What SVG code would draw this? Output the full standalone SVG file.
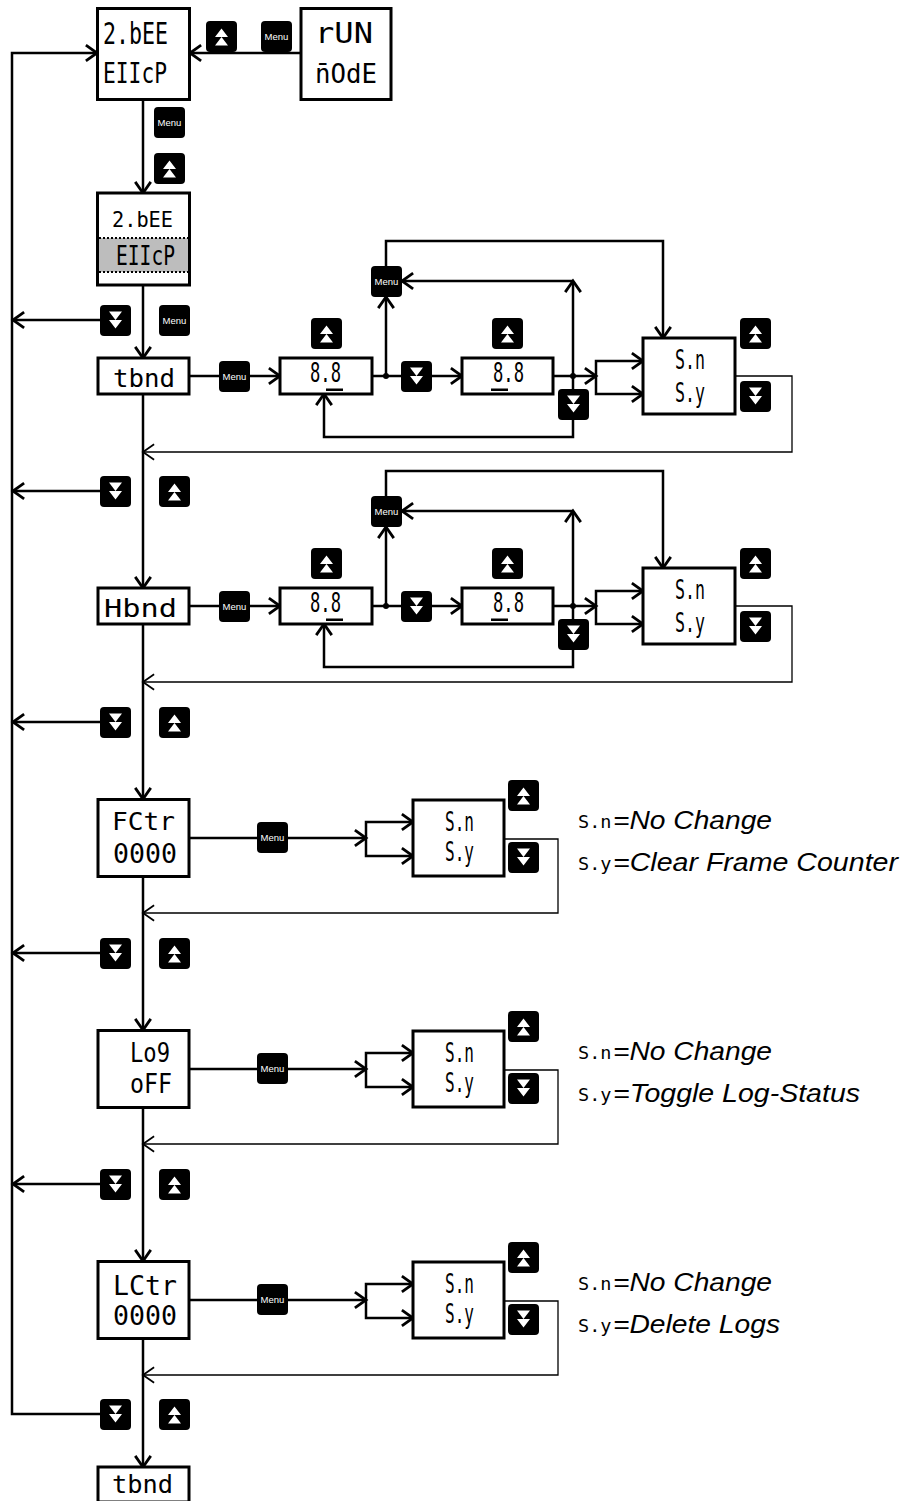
<svg xmlns="http://www.w3.org/2000/svg" xmlns:xlink="http://www.w3.org/1999/xlink" width="904" height="1501" viewBox="0 0 904 1501">
<style>
.ln{fill:none;stroke:#000;stroke-width:2.5}
.thin{fill:none;stroke:#000;stroke-width:1.3}
.box{fill:#fff;stroke:#000;stroke-width:3}
.disp{font-family:"DejaVu Sans Mono","Liberation Mono",monospace;fill:#000}
.lsn{font-family:"DejaVu Sans Mono","Liberation Mono",monospace;font-size:18.5px;fill:#000}
.mtxt{font-family:"Liberation Sans",Arial,sans-serif;font-size:9.5px;fill:#fff;text-anchor:middle}
.leg{font-family:"Liberation Sans",Arial,sans-serif;font-style:italic;font-size:26px;fill:#000}
</style>
<defs>
<marker id="ah" markerUnits="userSpaceOnUse" markerWidth="20" markerHeight="20" viewBox="-12 -9 14 18" refX="0" refY="0" orient="auto" overflow="visible">
<path d="M-10,-7 L0,0 L-10,7" fill="none" stroke="#000" stroke-width="2.5"/>
</marker>
<marker id="aht" markerUnits="userSpaceOnUse" markerWidth="20" markerHeight="20" viewBox="-12 -9 14 18" refX="0" refY="0" orient="auto" overflow="visible">
<path d="M-10,-7 L0,0 L-10,7" fill="none" stroke="#000" stroke-width="1.6"/>
</marker>
<g id="up"><rect width="31" height="31" rx="4" fill="#000"/><path d="M15.5,7.5 L22,16 L9,16 Z M15.5,16 L22,24.5 L9,24.5 Z" fill="#fff"/></g>
<g id="dn"><rect width="31" height="31" rx="4" fill="#000"/><path d="M9,6.5 L22,6.5 L15.5,15 Z M9,15 L22,15 L15.5,23.5 Z" fill="#fff"/></g>
<g id="mn"><rect width="31" height="31" rx="4" fill="#000"/><text class="mtxt" x="15.5" y="18.5">Menu</text></g>
</defs>
<rect width="904" height="1501" fill="#fff"/>

<g id="connectors">
<path class="ln" d="M301,53 H190" marker-end="url(#ah)"/>
<path class="ln" d="M100,1414 H12 V53 H97" marker-end="url(#ah)"/>
<path class="ln" d="M143,99 V193" marker-end="url(#ah)"/>
<path class="ln" d="M143,285 V358" marker-end="url(#ah)"/>
<path class="ln" d="M100,320 H13" marker-end="url(#ah)"/>
<path class="ln" d="M189,376 H280" marker-end="url(#ah)"/>
<path class="ln" d="M372,376 H462" marker-end="url(#ah)"/>
<path class="ln" d="M386,376 V297" marker-end="url(#ah)"/>
<path class="ln" d="M386,266 V241 H663 V338" marker-end="url(#ah)"/>
<path class="ln" d="M553,376 H596" marker-end="url(#ah)"/>
<path class="ln" d="M596,376 V361 H643" marker-end="url(#ah)"/>
<path class="ln" d="M596,376 V394 H643" marker-end="url(#ah)"/>
<path class="ln" d="M573,376 V281" marker-end="url(#ah)"/>
<path class="ln" d="M573,281 H402" marker-end="url(#ah)"/>
<path class="ln" d="M573,376 V437 H324 V394" marker-end="url(#ah)"/>
<path class="thin" d="M735,376 H792 V452 H143" marker-end="url(#aht)"/>
<circle cx="386" cy="376" r="3"/>
<circle cx="573" cy="376" r="3"/>
<path class="ln" d="M143,394 V588" marker-end="url(#ah)"/>
<path class="ln" d="M100,491 H13" marker-end="url(#ah)"/>
<path class="ln" d="M189,606 H280" marker-end="url(#ah)"/>
<path class="ln" d="M372,606 H462" marker-end="url(#ah)"/>
<path class="ln" d="M386,606 V527" marker-end="url(#ah)"/>
<path class="ln" d="M386,496 V471 H663 V568" marker-end="url(#ah)"/>
<path class="ln" d="M553,606 H596" marker-end="url(#ah)"/>
<path class="ln" d="M596,606 V591 H643" marker-end="url(#ah)"/>
<path class="ln" d="M596,606 V624 H643" marker-end="url(#ah)"/>
<path class="ln" d="M573,606 V511" marker-end="url(#ah)"/>
<path class="ln" d="M573,511 H402" marker-end="url(#ah)"/>
<path class="ln" d="M573,606 V667 H324 V624" marker-end="url(#ah)"/>
<path class="thin" d="M735,606 H792 V682 H143" marker-end="url(#aht)"/>
<circle cx="386" cy="606" r="3"/>
<circle cx="573" cy="606" r="3"/>
<path class="ln" d="M143,624 V799" marker-end="url(#ah)"/>
<path class="ln" d="M100,722 H13" marker-end="url(#ah)"/>
<path class="ln" d="M189,838 H366" marker-end="url(#ah)"/>
<path class="ln" d="M366,838 V822 H413" marker-end="url(#ah)"/>
<path class="ln" d="M366,838 V856 H413" marker-end="url(#ah)"/>
<path class="thin" d="M504,839 H558 V913 H143" marker-end="url(#aht)"/>
<path class="ln" d="M143,877 V1030" marker-end="url(#ah)"/>
<path class="ln" d="M100,953 H13" marker-end="url(#ah)"/>
<path class="ln" d="M189,1069 H366" marker-end="url(#ah)"/>
<path class="ln" d="M366,1069 V1053 H413" marker-end="url(#ah)"/>
<path class="ln" d="M366,1069 V1087 H413" marker-end="url(#ah)"/>
<path class="thin" d="M504,1070 H558 V1144 H143" marker-end="url(#aht)"/>
<path class="ln" d="M143,1108 V1261" marker-end="url(#ah)"/>
<path class="ln" d="M100,1184 H13" marker-end="url(#ah)"/>
<path class="ln" d="M189,1300 H366" marker-end="url(#ah)"/>
<path class="ln" d="M366,1300 V1284 H413" marker-end="url(#ah)"/>
<path class="ln" d="M366,1300 V1318 H413" marker-end="url(#ah)"/>
<path class="thin" d="M504,1301 H558 V1375 H143" marker-end="url(#aht)"/>
<path class="ln" d="M143,1339 V1467" marker-end="url(#ah)"/>
</g>

<g id="keys">
<use href="#up" x="206" y="21"/>
<use href="#mn" x="261" y="21"/>
<use href="#mn" x="154" y="107"/>
<use href="#up" x="154" y="153"/>
<use href="#dn" x="100" y="305"/>
<use href="#mn" x="159" y="305"/>
<use href="#mn" x="219" y="361"/>
<use href="#up" x="311" y="318"/>
<use href="#mn" x="371" y="266"/>
<use href="#dn" x="401" y="361"/>
<use href="#up" x="492" y="318"/>
<use href="#dn" x="558" y="389"/>
<use href="#up" x="740" y="318"/>
<use href="#dn" x="740" y="381"/>
<use href="#dn" x="100" y="476"/>
<use href="#up" x="159" y="476"/>
<use href="#mn" x="219" y="591"/>
<use href="#up" x="311" y="548"/>
<use href="#mn" x="371" y="496"/>
<use href="#dn" x="401" y="591"/>
<use href="#up" x="492" y="548"/>
<use href="#dn" x="558" y="619"/>
<use href="#up" x="740" y="548"/>
<use href="#dn" x="740" y="611"/>
<use href="#dn" x="100" y="707"/>
<use href="#up" x="159" y="707"/>
<use href="#mn" x="257" y="822"/>
<use href="#up" x="508" y="780"/>
<use href="#dn" x="508" y="842"/>
<use href="#dn" x="100" y="938"/>
<use href="#up" x="159" y="938"/>
<use href="#mn" x="257" y="1053"/>
<use href="#up" x="508" y="1011"/>
<use href="#dn" x="508" y="1073"/>
<use href="#dn" x="100" y="1169"/>
<use href="#up" x="159" y="1169"/>
<use href="#mn" x="257" y="1284"/>
<use href="#up" x="508" y="1242"/>
<use href="#dn" x="508" y="1304"/>
<use href="#dn" x="100" y="1399"/>
<use href="#up" x="159" y="1399"/>
</g>

<g id="node-setup">
<rect class="box" x="97.5" y="8.5" width="92" height="91"/>
<text class="disp" x="103" y="44" font-size="30" textLength="65" lengthAdjust="spacingAndGlyphs">2.bEE</text>
<text class="disp" x="103" y="83" font-size="28" textLength="64" lengthAdjust="spacingAndGlyphs">EIIcP</text>
</g>
<g id="node-runmode">
<rect class="box" x="301" y="8.5" width="90" height="91"/>
<text class="disp" x="315" y="43" font-size="29" textLength="58" lengthAdjust="spacingAndGlyphs">rUN</text>
<text class="disp" x="315" y="83" font-size="27" textLength="62" lengthAdjust="spacingAndGlyphs">n̄OdE</text>
</g>
<g id="node-setup-sel">
<rect class="box" x="97.5" y="193" width="92" height="92"/>
<rect x="99" y="238" width="89" height="34" fill="#bdbdbd"/>
<path d="M99,238 H188 M99,272 H188" stroke="#000" stroke-width="2" stroke-dasharray="2,2"/>
<text class="disp" x="112" y="227" font-size="21" textLength="61" lengthAdjust="spacingAndGlyphs">2.bEE</text>
<text class="disp" x="116" y="265" font-size="27" textLength="59" lengthAdjust="spacingAndGlyphs">EIIcP</text>
</g>
<g id="node-tbnd">
<rect class="box" x="98" y="358" width="91" height="36"/>
<text class="disp" x="113" y="387" font-size="25" textLength="62" lengthAdjust="spacingAndGlyphs">tbnd</text>
</g>
<g id="node-tbnd-d1">
<rect class="box" x="280" y="358" width="92" height="36"/>
<text class="disp" x="310" y="382" font-size="26" textLength="31" lengthAdjust="spacingAndGlyphs">8.8</text>
<rect x="326" y="388.5" width="17" height="2.5"/>
</g>
<g id="node-tbnd-d2">
<rect class="box" x="462" y="358" width="91" height="36"/>
<text class="disp" x="493" y="382" font-size="26" textLength="31" lengthAdjust="spacingAndGlyphs">8.8</text>
<rect x="491" y="388.5" width="17" height="2.5"/>
</g>
<g id="node-tbnd-sel">
<rect class="box" x="643" y="338" width="92" height="76"/>
<text class="disp" x="675" y="369" font-size="26" textLength="30" lengthAdjust="spacingAndGlyphs">S.n</text>
<text class="disp" x="675" y="402" font-size="26" textLength="30" lengthAdjust="spacingAndGlyphs">S.y</text>
</g>
<g id="node-hbnd">
<rect class="box" x="98" y="588" width="91" height="36"/>
<text class="disp" x="104" y="617" font-size="25" textLength="73" lengthAdjust="spacingAndGlyphs">Hbnd</text>
</g>
<g id="node-hbnd-d1">
<rect class="box" x="280" y="588" width="92" height="36"/>
<text class="disp" x="310" y="612" font-size="26" textLength="31" lengthAdjust="spacingAndGlyphs">8.8</text>
<rect x="326" y="618.5" width="17" height="2.5"/>
</g>
<g id="node-hbnd-d2">
<rect class="box" x="462" y="588" width="91" height="36"/>
<text class="disp" x="493" y="612" font-size="26" textLength="31" lengthAdjust="spacingAndGlyphs">8.8</text>
<rect x="491" y="618.5" width="17" height="2.5"/>
</g>
<g id="node-hbnd-sel">
<rect class="box" x="643" y="568" width="92" height="76"/>
<text class="disp" x="675" y="599" font-size="26" textLength="30" lengthAdjust="spacingAndGlyphs">S.n</text>
<text class="disp" x="675" y="632" font-size="26" textLength="30" lengthAdjust="spacingAndGlyphs">S.y</text>
</g>
<g id="node-fctr">
<rect class="box" x="98" y="799.5" width="91" height="77"/>
<text class="disp" x="112" y="830" font-size="25" textLength="63" lengthAdjust="spacingAndGlyphs">FCtr</text>
<text class="disp" x="113" y="863" font-size="27" textLength="64" lengthAdjust="spacingAndGlyphs">0000</text>
</g>
<g id="node-fctr-sel">
<rect class="box" x="413" y="800" width="91" height="76"/>
<text class="disp" x="445" y="831" font-size="26" textLength="29" lengthAdjust="spacingAndGlyphs">S.n</text>
<text class="disp" x="445" y="861" font-size="26" textLength="29" lengthAdjust="spacingAndGlyphs">S.y</text>
</g>
<g id="legend-fctr">
<text class="lsn" x="578" y="828">S.n</text>
<text class="leg" x="613" y="829" textLength="159" lengthAdjust="spacingAndGlyphs">=No Change</text>
<text class="lsn" x="578" y="870">S.y</text>
<text class="leg" x="613" y="871" textLength="285" lengthAdjust="spacingAndGlyphs">=Clear Frame Counter</text>
</g>
<g id="node-log">
<rect class="box" x="98" y="1030.5" width="91" height="77"/>
<text class="disp" x="130" y="1062" font-size="26" textLength="40" lengthAdjust="spacingAndGlyphs">Lo9</text>
<text class="disp" x="130" y="1093" font-size="26" textLength="42" lengthAdjust="spacingAndGlyphs">oFF</text>
</g>
<g id="node-log-sel">
<rect class="box" x="413" y="1031" width="91" height="76"/>
<text class="disp" x="445" y="1062" font-size="26" textLength="29" lengthAdjust="spacingAndGlyphs">S.n</text>
<text class="disp" x="445" y="1092" font-size="26" textLength="29" lengthAdjust="spacingAndGlyphs">S.y</text>
</g>
<g id="legend-log">
<text class="lsn" x="578" y="1059">S.n</text>
<text class="leg" x="613" y="1060" textLength="159" lengthAdjust="spacingAndGlyphs">=No Change</text>
<text class="lsn" x="578" y="1101">S.y</text>
<text class="leg" x="613" y="1102" textLength="247" lengthAdjust="spacingAndGlyphs">=Toggle Log-Status</text>
</g>
<g id="node-lctr">
<rect class="box" x="98" y="1261.5" width="91" height="77"/>
<text class="disp" x="113" y="1295" font-size="26" textLength="64" lengthAdjust="spacingAndGlyphs">LCtr</text>
<text class="disp" x="113" y="1325" font-size="27" textLength="64" lengthAdjust="spacingAndGlyphs">0000</text>
</g>
<g id="node-lctr-sel">
<rect class="box" x="413" y="1262" width="91" height="76"/>
<text class="disp" x="445" y="1293" font-size="26" textLength="29" lengthAdjust="spacingAndGlyphs">S.n</text>
<text class="disp" x="445" y="1323" font-size="26" textLength="29" lengthAdjust="spacingAndGlyphs">S.y</text>
</g>
<g id="legend-lctr">
<text class="lsn" x="578" y="1290">S.n</text>
<text class="leg" x="613" y="1291" textLength="159" lengthAdjust="spacingAndGlyphs">=No Change</text>
<text class="lsn" x="578" y="1332">S.y</text>
<text class="leg" x="613" y="1333" textLength="167" lengthAdjust="spacingAndGlyphs">=Delete Logs</text>
</g>
<g id="node-tbnd-bottom">
<rect class="box" x="98" y="1467" width="91" height="35"/>
<text class="disp" x="112" y="1493" font-size="25" textLength="61" lengthAdjust="spacingAndGlyphs">tbnd</text>
</g>
</svg>
